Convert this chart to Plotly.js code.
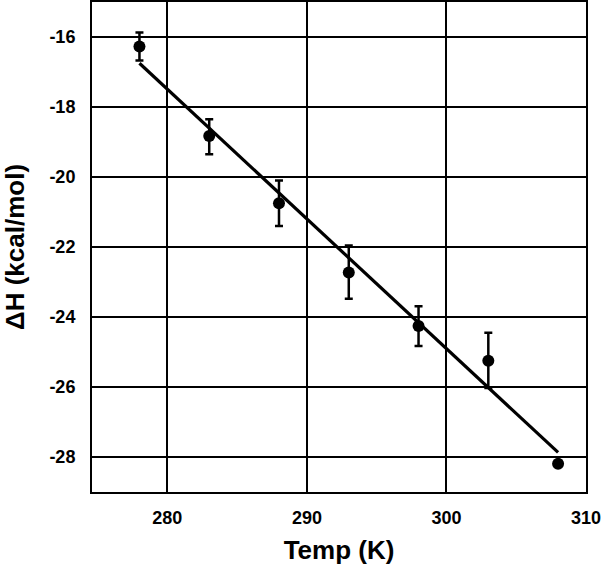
<!DOCTYPE html>
<html>
<head>
<meta charset="utf-8">
<script src="https://cdn.plot.ly/plotly-3.0.1.min.js"></script>
<style>html,body{margin:0;padding:0;background:#fff;}#chart{width:601px;height:568px;}</style>
</head>
<body>
<div id="chart"></div>
<script>
var temps = [278, 283, 288, 293, 298, 303, 308];
var deltaH = [-16.27, -18.83, -20.75, -22.73, -24.26, -25.25, -28.19];
var errPlus = [0.40, 0.48, 0.65, 0.77, 0.57, 0.80, 0];
var errMinus = [0.40, 0.52, 0.65, 0.75, 0.57, 0.78, 0];
var fitX = [278, 308];
var fitY = [-16.75, -27.87];
var xTicks = [280, 290, 300, 310];
var yTicks = [-16, -18, -20, -22, -24, -26, -28];

var fontFam = 'Liberation Sans, Arial, sans-serif';

var traces = [
  {
    x: fitX, y: fitY, mode: 'lines', type: 'scatter',
    line: {color: '#000', width: 3.2}, hoverinfo: 'skip', showlegend: false
  },
  {
    x: temps, y: deltaH, mode: 'markers', type: 'scatter',
    marker: {color: '#000', size: 12},
    error_y: {type: 'data', symmetric: false, array: errPlus, arrayminus: errMinus,
              color: '#000', thickness: 2.5, width: 4},
    showlegend: false
  }
];

var layout = {
  width: 601, height: 568,
  margin: {l: 92, r: 15, t: 2, b: 76},
  paper_bgcolor: '#fff', plot_bgcolor: '#fff',
  font: {family: fontFam, color: '#000'},
  xaxis: {
    range: [274.6, 310], tickvals: xTicks, ticktext: xTicks.map(function(v){return '<b>' + v + '</b>';}),
    showgrid: true, gridcolor: '#000', gridwidth: 2,
    showline: true, linecolor: '#000', linewidth: 2, mirror: true,
    zeroline: false, ticks: '', ticklabelstandoff: 8, ticklabeloverflow: 'allow',
    tickfont: {size: 18, family: fontFam},
    title: {text: '<b>Temp (K)</b>', font: {size: 26, family: fontFam}, standoff: 14}
  },
  yaxis: {
    range: [-29, -15], tickvals: yTicks, ticktext: yTicks.map(function(v){return '<b>' + v + '</b>';}),
    showgrid: true, gridcolor: '#000', gridwidth: 2,
    showline: true, linecolor: '#000', linewidth: 2, mirror: true,
    zeroline: false, ticks: '', ticklabelstandoff: 11, automargin: true,
    tickfont: {size: 18, family: fontFam},
    title: {text: '<b>ΔH (kcal/mol)</b>', font: {size: 26, family: fontFam}, standoff: 27}
  }
};

Plotly.newPlot('chart', traces, layout, {displayModeBar: false, staticPlot: true});
</script>
</body>
</html>
